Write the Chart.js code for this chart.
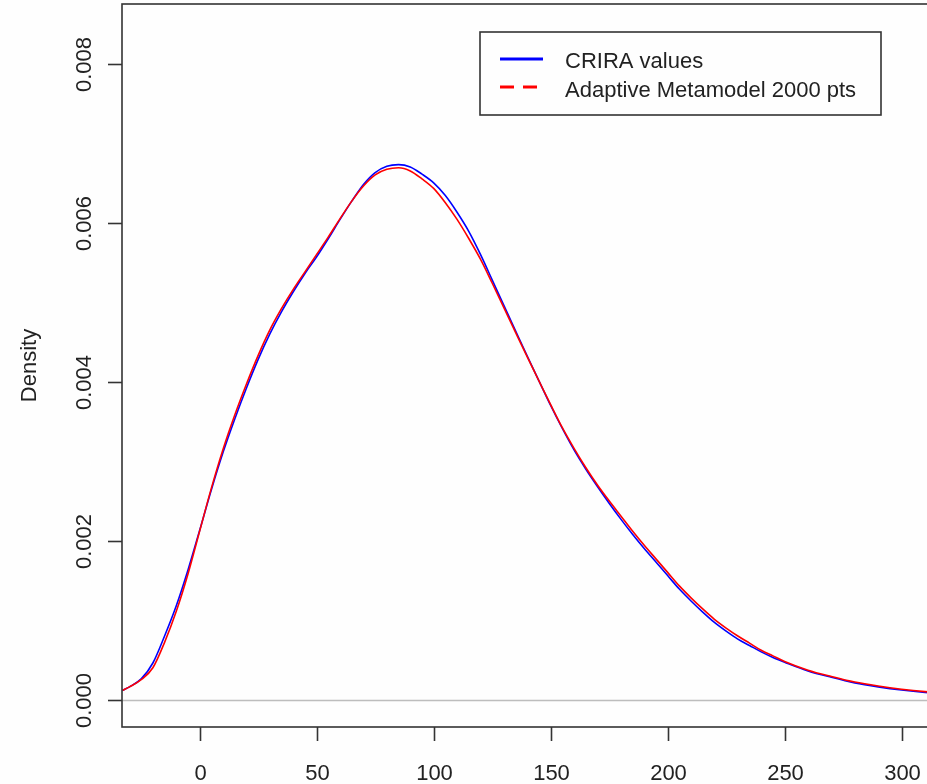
<!DOCTYPE html>
<html>
<head>
<meta charset="utf-8">
<script src="https://cdn.jsdelivr.net/npm/chart.js@4.4.1/dist/chart.umd.min.js"></script>
<style>
  html, body { margin: 0; padding: 0; background: #fefefe; overflow: hidden; }
  #wrap { width: 940px; height: 784px; position: relative; }
</style>
</head>
<body>
<div id="wrap"><canvas id="c"></canvas></div>
<script>
// ---- data ----
const seriesLabels = ["CRIRA values", "Adaptive Metamodel 2000 pts"];
const xValues = [-33, -30, -25, -20, -15, -10, -5, 0, 5, 10, 15, 20, 25, 30, 35, 40, 45, 50, 55, 60, 65, 70, 75, 80, 85, 90, 95, 100, 105, 110, 115, 120, 125, 130, 135, 140, 145, 150, 155, 160, 165, 170, 175, 180, 185, 190, 195, 200, 205, 210, 215, 220, 225, 230, 235, 240, 245, 250, 260, 270, 280, 290, 300, 310, 315];
const criraValues = [0.000115, 0.00016, 0.00026, 0.00046, 0.00080, 0.00118, 0.00163, 0.00213, 0.00264, 0.00311, 0.00353, 0.00392, 0.00428, 0.00460, 0.00488, 0.00513, 0.00536, 0.00557, 0.00580, 0.00604, 0.00627, 0.00648, 0.00663, 0.00671, 0.00673, 0.00670, 0.00661, 0.00650, 0.00634, 0.00613, 0.00589, 0.00560, 0.00528, 0.00496, 0.00464, 0.00432, 0.00401, 0.00370, 0.00341, 0.00314, 0.00290, 0.00268, 0.00247, 0.00227, 0.00208, 0.00190, 0.00173, 0.00156, 0.00139, 0.00124, 0.00110, 0.00097, 0.00086, 0.00076, 0.00068, 0.00060, 0.00053, 0.00047, 0.00036, 0.00028, 0.00021, 0.00016, 0.00012, 0.00009, 0.00008];
const metamodelValues = [0.000115, 0.00016, 0.00025, 0.00040, 0.00072, 0.00111, 0.00158, 0.00212, 0.00266, 0.00315, 0.00358, 0.00397, 0.00433, 0.00465, 0.00492, 0.00516, 0.00538, 0.00560, 0.00582, 0.00605, 0.00627, 0.00646, 0.00660, 0.00667, 0.00669, 0.00665, 0.00655, 0.00643, 0.00625, 0.00604, 0.00580, 0.00554, 0.00524, 0.00493, 0.00462, 0.00431, 0.00401, 0.00371, 0.00342, 0.00316, 0.00292, 0.00270, 0.00250, 0.00231, 0.00212, 0.00194, 0.00177, 0.00160, 0.00143, 0.00128, 0.00114, 0.00101, 0.00090, 0.00080, 0.00071, 0.00062, 0.00055, 0.00048, 0.00037, 0.00029, 0.00022, 0.00017, 0.00013, 0.00010, 0.00009];
const xTicks = [0, 50, 100, 150, 200, 250, 300];
const yTicks = [0.000, 0.002, 0.004, 0.006, 0.008];
const yTickLabels = ["0.000", "0.002", "0.004", "0.006", "0.008"];
const yTitle = "Density";

const FONT = '22px "Liberation Sans", Arial, sans-serif';
const seriesColors = ["#0000ff", "#ff0000"];

const rStyle = {
  id: 'rStyle',
  beforeDraw(chart) {
    const ctx = chart.ctx;
    ctx.save();
    ctx.fillStyle = '#fefefe';
    ctx.fillRect(0, 0, chart.width, chart.height);
    const { left, right } = chart.chartArea;
    const ys = chart.scales.y;
    const y0 = Math.round(ys.getPixelForValue(0)) + 0.5;
    ctx.strokeStyle = '#bdbdbd';
    ctx.lineWidth = 1.5;
    ctx.beginPath();
    ctx.moveTo(left, y0);
    ctx.lineTo(right, y0);
    ctx.stroke();
    ctx.restore();
  },
  afterDraw(chart) {
    const ctx = chart.ctx;
    const { left, right, top, bottom } = chart.chartArea;
    const xs = chart.scales.x, ys = chart.scales.y;
    ctx.save();
    ctx.strokeStyle = '#333333';
    ctx.lineWidth = 1.6;
    ctx.strokeRect(left, top, right - left, bottom - top);
    ctx.fillStyle = '#222222';
    ctx.font = FONT;
    ctx.textAlign = 'center';
    ctx.textBaseline = 'alphabetic';
    xTicks.forEach(v => {
      const px = Math.round(xs.getPixelForValue(v)) + 0.5;
      ctx.beginPath();
      ctx.moveTo(px, bottom);
      ctx.lineTo(px, bottom + 14);
      ctx.stroke();
      ctx.fillText(String(v), px, 780);
    });
    yTicks.forEach((v, i) => {
      const py = Math.round(ys.getPixelForValue(v)) + 0.5;
      ctx.beginPath();
      ctx.moveTo(left, py);
      ctx.lineTo(left - 14, py);
      ctx.stroke();
      ctx.save();
      ctx.translate(91, py);
      ctx.rotate(-Math.PI / 2);
      ctx.textAlign = 'center';
      ctx.fillText(yTickLabels[i], 0, 0);
      ctx.restore();
    });
    ctx.save();
    ctx.translate(36, (top + bottom) / 2);
    ctx.rotate(-Math.PI / 2);
    ctx.textAlign = 'center';
    ctx.fillText(yTitle, 0, 0);
    ctx.restore();
    // legend
    ctx.fillStyle = '#fefefe';
    ctx.fillRect(480, 32, 401, 83);
    ctx.strokeStyle = '#333333';
    ctx.lineWidth = 1.6;
    ctx.strokeRect(480, 32, 401, 83);
    const rows = [59, 87];
    const base = [68, 97];
    seriesLabels.forEach((lab, i) => {
      ctx.strokeStyle = seriesColors[i];
      ctx.lineWidth = 3;
      ctx.setLineDash(i === 1 ? [14, 9] : []);
      ctx.beginPath();
      ctx.moveTo(500, rows[i]);
      ctx.lineTo(543, rows[i]);
      ctx.stroke();
      ctx.setLineDash([]);
      ctx.fillStyle = '#222222';
      ctx.textAlign = 'left';
      ctx.fillText(lab, 565, base[i]);
    });
    ctx.restore();
  }
};

const toPts = arr => xValues.map((x, i) => ({ x: x, y: arr[i] }));

new Chart(document.getElementById('c'), {
  type: 'line',
  data: {
    datasets: [
      { label: seriesLabels[0], data: toPts(criraValues), borderColor: seriesColors[0], borderWidth: 1.6, pointRadius: 0, cubicInterpolationMode: 'monotone', order: 1, fill: false },
      { label: seriesLabels[1], data: toPts(metamodelValues), borderColor: seriesColors[1], borderWidth: 1.6, pointRadius: 0, cubicInterpolationMode: 'monotone', order: 0, fill: false }
    ]
  },
  options: {
    responsive: true,
    maintainAspectRatio: false,
    animation: false,
    layout: { padding: { left: 122, top: 4, right: 4, bottom: 57 } },
    plugins: { legend: { display: false }, tooltip: { enabled: false } },
    scales: {
      x: { type: 'linear', display: false, min: -33.2, max: 314.7 },
      y: { type: 'linear', display: false, min: -0.000345, max: 0.00875 }
    }
  },
  plugins: [rStyle]
});
</script>
</body>
</html>
